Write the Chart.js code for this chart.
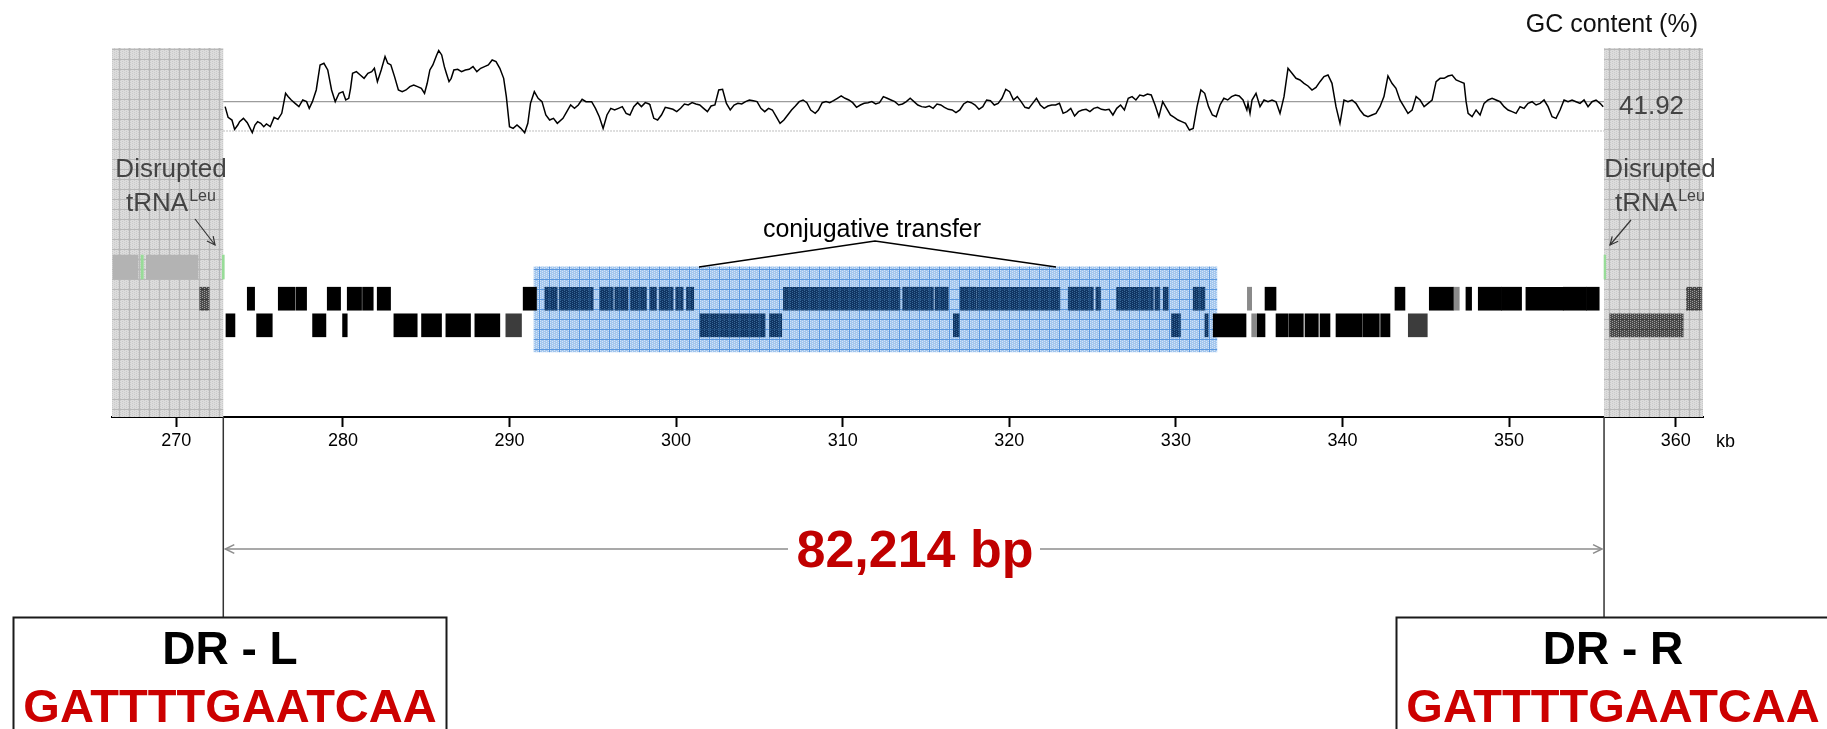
<!DOCTYPE html>
<html>
<head>
<meta charset="utf-8">
<title>Genomic island map</title>
<script src="https://cdn.jsdelivr.net/npm/chart.js@4.4.1/dist/chart.umd.min.js"></script>
<style>
  html, body { margin: 0; padding: 0; background: #fff; }
  #map { display: block; }
</style>
</head>
<body>
<canvas id="map" width="1827" height="729"></canvas>
<script>
// ========================== DATA ==========================
// GC content sliding window (position in kb, GC %)
const gcKb = [
  272.93,273.11,273.34,273.50,273.69,273.80,274.03,274.26,274.56,274.72,
  274.88,275.07,275.25,275.41,275.64,275.87,276.10,276.33,276.56,276.72,
  276.90,277.13,277.36,277.59,277.82,277.98,278.17,278.40,278.63,278.86,
  279.09,279.32,279.54,279.77,280.00,280.17,280.35,280.46,280.58,280.81,
  281.04,281.27,281.50,281.73,281.89,282.07,282.30,282.53,282.69,282.88,
  283.10,283.33,283.56,283.79,284.02,284.25,284.48,284.71,284.90,285.06,
  285.22,285.40,285.63,285.75,285.93,286.09,286.21,286.37,286.50,286.66,
  286.89,287.12,287.35,287.58,287.81,288.04,288.27,288.50,288.73,288.96,
  289.19,289.42,289.65,289.81,290.00,290.22,290.45,290.68,290.91,291.10,
  291.26,291.49,291.72,291.95,292.18,292.41,292.64,292.87,293.21,293.44,
  293.67,293.90,294.13,294.36,294.59,294.93,295.16,295.39,295.62,295.85,
  296.08,296.31,296.54,296.77,297.00,297.23,297.46,297.69,297.92,298.15,298.38,
  298.43,298.66,298.89,299.12,299.35,299.58,299.81,300.04,300.27,300.50,
  300.73,300.96,301.19,301.42,301.65,301.88,302.10,302.33,302.56,302.79,
  303.02,303.25,303.48,303.71,303.94,304.17,304.40,304.63,304.86,305.09,
  305.32,305.55,305.78,306.01,306.24,306.47,306.70,306.93,307.16,307.39,
  307.62,307.85,308.08,308.35,308.54,308.77,309.00,309.22,309.45,309.68,
  309.91,310.14,310.37,310.60,310.83,311.06,311.29,311.52,311.75,311.98,
  312.21,312.44,312.67,312.90,313.13,313.36,313.59,313.82,314.05,314.28,
  314.51,314.74,314.97,315.20,315.43,315.66,315.89,316.11,316.34,316.57,
  316.80,317.03,317.26,317.49,317.72,317.95,318.18,318.41,318.64,318.87,
  319.10,319.33,319.56,319.79,320.02,320.25,320.48,320.71,320.94,321.17,
  321.40,321.63,321.86,322.09,322.32,322.55,322.78,323.01,323.23,323.46,
  323.69,323.92,324.15,324.38,324.61,324.84,325.07,325.30,325.53,325.76,
  325.99,326.22,326.45,326.68,326.91,327.14,327.37,327.60,327.83,328.06,
  328.29,328.52,328.75,328.98,329.21,329.44,329.67,329.90,330.13,330.35,
  330.58,330.81,331.04,331.27,331.50,331.73,331.96,332.19,332.42,332.65,
  332.88,333.11,333.34,333.57,333.80,334.03,334.26,
  334.33,334.45,334.57,334.81,335.05,335.29,335.53,335.77,336.01,336.25,
  336.49,336.73,336.97,337.21,337.45,337.69,337.93,338.17,338.41,338.65,
  338.89,339.13,339.37,339.61,339.85,340.09,340.33,340.57,340.81,341.05,
  341.29,341.53,341.77,342.01,342.25,342.49,342.73,342.97,343.21,343.45,
  343.69,343.93,344.18,344.42,344.66,344.90,345.14,345.38,345.62,345.86,
  346.10,346.34,346.58,346.82,347.06,347.30,347.42,347.54,347.78,348.02,
  348.26,348.50,348.74,348.98,349.22,349.46,349.70,349.94,350.18,350.42,
  350.66,350.90,351.14,351.38,351.62,351.86,352.10,352.34,352.58,352.82,
  353.06,353.30,353.54,353.78,354.02,354.26,354.50,354.74,354.98,355.22,
  355.46,355.65
];
const gcPct = [
  40.75,38.22,37.59,35.39,36.41,37.20,37.99,36.96,34.60,36.41,
  37.20,36.81,36.02,36.65,36.02,38.22,37.75,39.17,43.90,43.11,
  42.32,41.53,40.75,42.32,41.93,40.35,41.93,44.69,50.60,50.99,
  49.41,44.69,41.93,43.90,44.29,42.32,42.72,45.08,48.63,49.02,
  48.23,47.44,48.63,49.02,49.81,46.66,49.41,52.57,50.99,50.60,
  47.84,44.69,44.29,44.69,45.47,45.87,45.47,45.08,43.90,46.26,
  49.41,50.60,52.96,53.98,52.96,50.20,48.63,46.66,47.44,49.41,
  49.57,49.02,49.41,49.57,50.20,49.02,49.81,50.20,50.60,51.78,
  51.38,49.81,47.44,43.11,36.02,35.62,36.41,35.62,34.60,36.81,
  41.53,44.29,42.72,41.93,38.78,37.59,37.99,36.81,37.99,39.56,
  41.14,40.35,41.14,42.48,41.93,41.93,40.35,38.38,35.62,38.78,
  40.35,39.96,40.35,40.75,39.17,38.78,40.75,41.69,40.75,41.69,41.38,
  41.14,37.99,37.59,38.78,40.59,40.35,40.12,39.56,40.35,41.38,
  41.14,41.69,41.38,41.14,40.35,39.56,40.90,41.14,44.69,44.84,
  41.53,39.96,41.14,41.53,41.38,41.93,42.32,42.16,41.93,40.35,
  39.56,40.35,39.96,38.38,36.81,37.59,38.78,39.96,40.90,41.93,
  42.32,41.69,39.96,39.17,39.96,41.69,41.93,41.69,42.16,42.72,
  43.27,42.72,42.32,41.69,40.59,41.14,41.53,41.69,41.93,41.38,
  41.69,43.11,42.72,42.32,41.93,41.14,41.38,41.93,42.72,41.93,
  41.14,40.75,40.59,40.90,40.35,41.38,41.14,40.59,40.12,39.96,
  39.33,39.96,41.38,41.93,41.69,41.14,40.12,40.75,42.32,42.16,
  41.14,41.53,42.72,44.84,44.29,42.32,43.11,41.93,40.59,40.35,
  41.53,42.72,41.14,40.35,40.90,41.14,41.14,41.53,39.17,39.56,
  40.35,38.54,39.56,39.96,40.12,39.56,40.35,40.59,40.12,39.96,
  40.12,38.78,40.35,41.14,39.96,42.72,43.11,42.32,43.50,43.27,
  43.74,43.50,41.14,38.38,41.93,40.35,38.78,38.22,37.59,37.20,
  36.81,35.23,35.62,40.75,44.69,43.90,40.75,38.78,38.38,41.14,
  42.72,42.32,43.11,43.50,43.27,42.32,39.96,
  41.53,39.17,42.32,43.90,40.74,42.32,41.92,42.32,41.92,39.17,
  43.11,49.81,48.62,47.44,47.05,46.26,45.63,44.68,45.31,46.65,
  47.84,48.23,46.26,40.74,36.80,42.32,41.92,42.32,41.53,39.96,
  38.77,38.38,38.77,39.17,40.74,43.11,47.99,46.26,45.08,42.32,
  40.74,39.17,39.96,43.11,42.32,40.74,41.53,42.32,46.65,47.44,
  47.44,47.99,48.23,47.05,46.65,46.26,41.92,39.17,38.38,39.96,
  38.77,41.53,42.32,42.71,42.32,41.92,40.74,39.96,39.56,39.17,
  40.74,40.35,41.53,41.92,41.14,41.53,42.32,40.74,38.38,37.99,
  39.96,42.32,41.92,42.32,41.92,41.53,42.32,40.74,41.92,42.32,
  41.53,40.74
];
const gcMean = 41.92;
const gcFloor = 35;

// island borders (kb) and conjugative transfer module (kb)
const islandStart = 272.82;
const islandEnd = 355.70;
const conjRegion = [291.47, 332.46];
const islandLength = "82,214 bp";
const drSequence = "GATTTTGAATCAA";

const xTicks = [270, 280, 290, 300, 310, 320, 330, 340, 350, 360];

// genes: [start kb, end kb, kind]
// kind: k black, g grey, d dark grey, n conjugation module, h flanking, l flanking RNA, r tRNA
const rnaGenes = [
  [266.20, 267.70, 'l'], [268.20, 271.30, 'l'],
  [267.88, 268.02, 'r'], [272.76, 272.88, 'r'], [355.70, 355.80, 'r']
];
const plusGenes = [
  [271.41, 271.97, 'h'],
  [274.26, 274.70, 'k'], [276.12, 277.12, 'k'], [277.18, 277.82, 'k'],
  [279.06, 279.86, 'k'], [280.26, 281.12, 'k'], [281.18, 281.82, 'k'], [282.06, 282.86, 'k'],
  [290.82, 291.62, 'k'],
  [292.12, 292.86, 'n'], [292.98, 295.02, 'n'], [295.42, 296.22, 'n'], [296.32, 297.12, 'n'],
  [297.26, 298.22, 'n'], [298.42, 298.82, 'n'], [298.98, 299.82, 'n'], [299.98, 300.42, 'n'],
  [300.62, 301.06, 'n'],
  [306.44, 308.44, 'n'], [308.48, 311.44, 'n'], [311.48, 313.44, 'n'], [313.60, 315.44, 'n'],
  [315.54, 316.34, 'n'], [317.04, 318.00, 'n'], [318.04, 323.04, 'n'], [323.54, 325.04, 'n'],
  [325.20, 325.48, 'n'], [326.44, 328.64, 'n'], [328.74, 329.04, 'n'], [329.24, 329.54, 'n'],
  [331.04, 331.74, 'n'],
  [334.29, 334.55, 'g'], [335.35, 336.01, 'k'], [343.15, 343.75, 'k'], [345.21, 346.65, 'k'],
  [346.65, 347.01, 'g'], [347.41, 347.75, 'k'], [348.15, 349.55, 'k'], [349.55, 350.75, 'k'],
  [351.01, 353.25, 'k'], [353.25, 354.65, 'k'], [354.65, 355.41, 'k'],
  [360.65, 361.55, 'h']
];
const minusGenes = [
  [272.98, 273.52, 'k'], [274.82, 275.76, 'k'], [278.18, 278.98, 'k'], [279.98, 280.26, 'k'],
  [283.06, 284.46, 'k'], [284.72, 285.92, 'k'], [286.18, 287.66, 'k'], [287.92, 289.42, 'k'],
  [289.78, 290.72, 'd'],
  [301.43, 302.80, 'n'], [302.84, 305.34, 'n'], [305.60, 306.34, 'n'],
  [316.64, 317.00, 'n'], [329.74, 330.28, 'n'], [331.74, 331.94, 'n'],
  [332.24, 334.21, 'k'], [334.55, 334.89, 'g'], [334.89, 335.35, 'k'],
  [336.01, 336.75, 'k'], [336.81, 337.65, 'k'], [337.75, 338.55, 'k'], [338.65, 339.25, 'k'],
  [339.61, 341.15, 'k'], [341.21, 342.21, 'k'], [342.29, 342.85, 'k'],
  [343.95, 345.09, 'd'],
  [356.05, 360.45, 'h']
];

// ========================== LAYOUT ==========================
const FONT = "'Liberation Sans', Arial, Helvetica, sans-serif";
const ROW_Y = { rna: 3.19, plus: 2, minus: 1 };
const REGION_Y = 1.60;

const canvas = document.getElementById("map");
const ctx = canvas.getContext("2d");

function makePattern(base, fleck, line){
  const c = document.createElement("canvas");
  c.width = 10; c.height = 10;
  const g = c.getContext("2d");
  g.fillStyle = base; g.fillRect(0, 0, 10, 10);
  g.fillStyle = fleck;
  for(let i = 0; i < 9; i += 2){
    for(let j = (i / 2) % 2; j < 9; j += 2) g.fillRect(i, j, 1, 1);
  }
  g.fillStyle = line;
  g.fillRect(9, 0, 1, 10);
  g.fillRect(0, 9, 10, 1);
  return ctx.createPattern(c, "repeat");
}

const grayFill = makePattern("#dcdcdc", "#cacaca", "#b8b8b8");
const blueFill = makePattern("#a4c7ee", "#d3e4f7", "#5b98df");
const fills = {
  k: "#000000", g: "#8a8a8a", d: "#3c3c3c", l: "#b3b3b3", r: "#98dc98",
  n: makePattern("#0f3462", "#3a6796", "#1d4a7c"),
  h: makePattern("#4b4b4b", "#9a9a9a", "#3a3a3a")
};

// ========================== DATASETS ==========================
const rows = [["rna", rnaGenes], ["plus", plusGenes], ["minus", minusGenes]];

function geneSet(kind){
  const pts = [];
  rows.forEach(([row, list]) => {
    list.forEach(g => {
      if(g[2] === kind) pts.push({ x: [g[0], g[1]], y: ROW_Y[row] });
    });
  });
  return {
    type: "bar", indexAxis: "y", xAxisID: "x", yAxisID: "yT", stack: "map",
    data: pts, backgroundColor: fills[kind], borderWidth: 0,
    barThickness: kind === "l" || kind === "r" ? 24 : 23, order: 1
  };
}

const datasets = [
  {
    type: "line", xAxisID: "x", yAxisID: "yGC", order: 0,
    data: gcKb.map((x, i) => ({ x: x, y: gcPct[i] })),
    borderColor: "#000", borderWidth: 1.5, pointRadius: 0, tension: 0
  },
  {
    type: "line", xAxisID: "x", yAxisID: "yGC", order: 3,
    data: [{ x: islandStart, y: gcMean }, { x: islandEnd, y: gcMean }],
    borderColor: "#9c9c9c", borderWidth: 1.3, pointRadius: 0
  },
  {
    type: "line", xAxisID: "x", yAxisID: "yGC", order: 3,
    data: [{ x: islandStart, y: gcFloor }, { x: islandEnd, y: gcFloor }],
    borderColor: "#a8a8a8", borderWidth: 1, borderDash: [1.5, 1.5], pointRadius: 0
  },
  {
    type: "bar", indexAxis: "y", xAxisID: "x", yAxisID: "yT", stack: "map", order: 5,
    data: [{ x: conjRegion, y: REGION_Y }],
    backgroundColor: blueFill, borderWidth: 0, barThickness: 85
  }
].concat(["l", "r", "h", "k", "g", "d", "n"].map(geneSet));

// ========================== ANNOTATIONS ==========================
function txt(c, s, x, y, size, color, align, bold){
  c.font = (bold ? "bold " : "") + size + "px " + FONT;
  c.fillStyle = color;
  c.textAlign = align || "left";
  c.textBaseline = "alphabetic";
  c.fillText(s, x, y);
}

function arrow(c, x0, y0, x1, y1, len, color, width){
  c.strokeStyle = color;
  c.lineWidth = width;
  c.beginPath(); c.moveTo(x0, y0); c.lineTo(x1, y1); c.stroke();
  const a = Math.atan2(y1 - y0, x1 - x0);
  c.beginPath();
  c.moveTo(x1 - len * Math.cos(a - 0.45), y1 - len * Math.sin(a - 0.45));
  c.lineTo(x1, y1);
  c.lineTo(x1 - len * Math.cos(a + 0.45), y1 - len * Math.sin(a + 0.45));
  c.stroke();
}

function trnaLabel(c, cx){
  txt(c, "Disrupted", cx, 177, 26, "#444", "center");
  c.font = "26px " + FONT;
  const w1 = c.measureText("tRNA").width;
  c.font = "16px " + FONT;
  const w2 = c.measureText("Leu").width;
  const left = cx - (w1 + w2 + 1) / 2;
  txt(c, "tRNA", left, 211, 26, "#444", "left");
  txt(c, "Leu", left + w1 + 1, 201, 16, "#444", "left");
}

function drBox(c, cx, lineX, label){
  c.strokeStyle = "#333";
  c.lineWidth = 1.5;
  c.beginPath(); c.moveTo(lineX, 417); c.lineTo(lineX, 617); c.stroke();
  c.strokeStyle = "#1a1a1a";
  c.lineWidth = 2;
  c.strokeRect(cx - 216.5, 617.5, 433, 200);
  txt(c, label, cx, 664, 46, "#000", "center", true);
  txt(c, drSequence, cx, 722, 47, "#cc0000", "center", true);
}

const annotate = {
  id: "annotate",
  beforeDatasetsDraw(chart){
    const c = chart.ctx, a = chart.chartArea, x = chart.scales.x;
    const l = x.getPixelForValue(islandStart);
    const r = x.getPixelForValue(islandEnd);
    c.save();
    c.fillStyle = grayFill;
    c.fillRect(a.left, a.top, l - a.left, a.bottom - a.top);
    c.fillRect(r, a.top, a.right - r, a.bottom - a.top);
    c.restore();
  },
  afterDraw(chart){
    const c = chart.ctx, x = chart.scales.x;
    const l = x.getPixelForValue(islandStart);
    const r = x.getPixelForValue(islandEnd);
    c.save();

    txt(c, "GC content (%)", 1698, 32, 25, "#111", "right");
    txt(c, gcMean.toFixed(2), 1619, 114, 26, "#444", "left");

    trnaLabel(c, 171);
    trnaLabel(c, 1660);
    arrow(c, 195, 219, 215, 245, 9, "#333", 1.2);
    arrow(c, 1631, 220, 1610, 245, 9, "#333", 1.2);

    txt(c, "conjugative transfer", 872, 237, 25, "#000", "center");
    c.strokeStyle = "#000";
    c.lineWidth = 1.3;
    c.beginPath();
    c.moveTo(699, 267); c.lineTo(875, 241); c.lineTo(1056, 267);
    c.stroke();

    txt(c, "kb", 1716, 447, 18, "#000", "left");

    drBox(c, 230, l, "DR - L");
    drBox(c, 1613, r, "DR - R");

    // island length
    arrow(c, 788, 549, l + 2, 549, 10, "#8c8c8c", 1.5);
    arrow(c, 1040, 549, r - 2, 549, 10, "#8c8c8c", 1.5);
    txt(c, islandLength, 915, 567, 52, "#c00000", "center", true);

    c.restore();
  }
};

// ========================== CHART ==========================
new Chart(ctx, {
  type: "bar",
  data: { datasets: datasets },
  options: {
    responsive: false,
    animation: false,
    devicePixelRatio: 1,
    layout: { padding: { left: 112, right: 124, top: 48, bottom: 0 } },
    plugins: { legend: { display: false }, tooltip: { enabled: false } },
    scales: {
      x: {
        type: "linear", position: "bottom", min: 266.14, max: 361.64,
        offset: false, stacked: false, beginAtZero: false,
        afterBuildTicks: s => { s.ticks = xTicks.map(v => ({ value: v })); },
        afterFit: s => { s.height = 312; },
        grid: { display: true, drawOnChartArea: false, drawTicks: true, offset: false,
                tickLength: 10, tickWidth: 2, tickColor: "#000" },
        border: { display: true, color: "#000", width: 2 },
        ticks: { color: "#000", font: { size: 18, family: FONT }, padding: 3,
                 maxRotation: 0, autoSkip: false }
      },
      yGC: {
        type: "linear", axis: "y", display: false, min: -32.55, max: 54.60,
        offset: false, grid: { offset: false }
      },
      yT: {
        type: "linear", axis: "y", display: false, min: -2.447, max: 11.425,
        offset: false, stacked: true, grid: { offset: false }
      }
    }
  },
  plugins: [annotate]
});
</script>
</body>
</html>
